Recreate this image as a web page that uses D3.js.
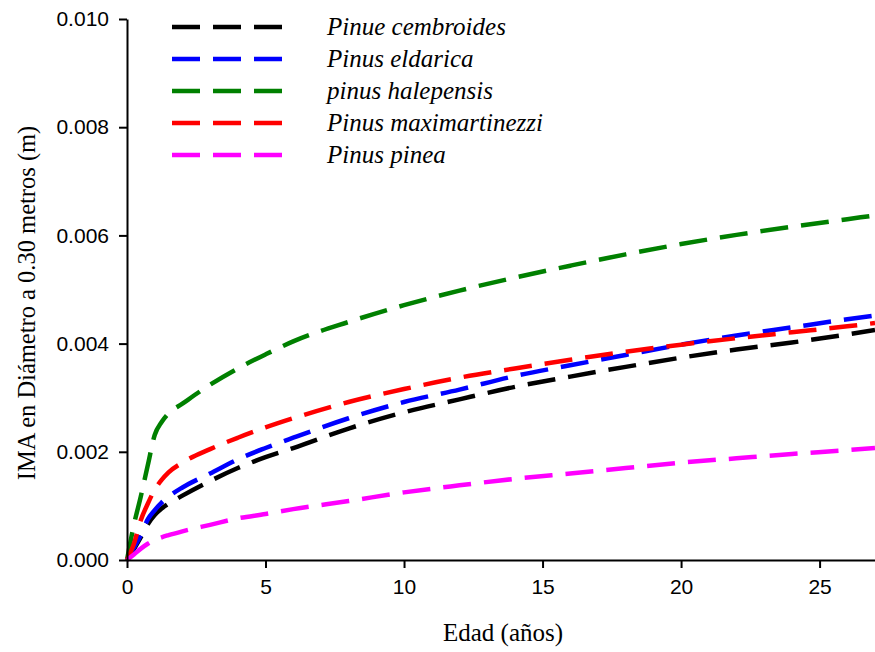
<!DOCTYPE html>
<html>
<head>
<meta charset="utf-8">
<script src="https://cdn.jsdelivr.net/npm/d3@7"></script>
<style>
  html, body { margin: 0; padding: 0; background: #fff; }
  svg { display: block; }
</style>
</head>
<body>
<div id="chart"></div>
<script>
// ---- Data ----
const ages = [0, 0.25, 0.5, 0.75, 1, 1.25, 1.5, 2, 3, 4, 5, 6, 8, 10, 12, 14, 16, 18, 20, 22, 24, 26, 27];

const pinueCembroides = [0, 0.0002, 0.00042, 0.00066, 0.00083, 0.00095, 0.00104, 0.00119, 0.00146, 0.0017, 0.0019, 0.00207, 0.00243, 0.00273, 0.00297, 0.0032, 0.00339, 0.00357, 0.00374, 0.00389, 0.00402, 0.00417, 0.00425];
const pinusEldarica = [0, 0.00023, 0.00046, 0.00075, 0.00092, 0.00106, 0.00117, 0.00134, 0.0016, 0.00186, 0.00207, 0.00226, 0.00262, 0.00292, 0.00315, 0.0034, 0.0036, 0.00379, 0.00398, 0.00415, 0.0043, 0.00445, 0.00452];
const pinusHalepensis = [0, 0.00065, 0.00118, 0.00175, 0.00231, 0.00255, 0.00271, 0.00289, 0.00324, 0.00354, 0.0038, 0.00404, 0.0044, 0.00471, 0.00498, 0.00522, 0.00544, 0.00565, 0.00584, 0.00601, 0.00616, 0.0063, 0.00637];
const pinusMaximartinezzi = [0, 0.0003, 0.00074, 0.00104, 0.0013, 0.00148, 0.00162, 0.0018, 0.00205, 0.00226, 0.00245, 0.00262, 0.00292, 0.00316, 0.00337, 0.00354, 0.0037, 0.00385, 0.00398, 0.0041, 0.00421, 0.00432, 0.00438];
const pinusPinea = [0, 0.0001, 0.00021, 0.0003, 0.00037, 0.00042, 0.00046, 0.00053, 0.00065, 0.00077, 0.00085, 0.00094, 0.00109, 0.00125, 0.00138, 0.0015, 0.0016, 0.0017, 0.0018, 0.00188, 0.00196, 0.00203, 0.00207];

const seriesNames = ["Pinue cembroides", "Pinus eldarica", "pinus halepensis", "Pinus maximartinezzi", "Pinus pinea"];
const seriesColors = ["#000000", "#0000ff", "#008000", "#ff0000", "#ff00ff"];
const seriesValues = [pinueCembroides, pinusEldarica, pinusHalepensis, pinusMaximartinezzi, pinusPinea];

const xTicks = [0, 5, 10, 15, 20, 25];
const yTicks = [0, 0.002, 0.004, 0.006, 0.008, 0.010];

const xTitle = "Edad (años)";
const yTitle = "IMA en Diámetro a 0.30 metros (m)";

// ---- Layout ----
const W = 875, H = 652;
const mLeft = 127, mTop = 19, mRight = 875, mBottom = 560;

const svg = d3.select("#chart").append("svg").attr("width", W).attr("height", H);

const x = d3.scaleLinear().domain([0, 27]).range([mLeft, mRight]);
const y = d3.scaleLinear().domain([0, 0.010]).range([mBottom, mTop]);

// Lines
const line = d3.line()
  .x(d => x(d[0]))
  .y(d => y(d[1]))
  .curve(d3.curveMonotoneX);

seriesValues.forEach((vals, i) => {
  const pts = ages.map((a, j) => [a, vals[j]]);
  svg.append("path")
    .datum(pts)
    .attr("fill", "none")
    .attr("stroke", seriesColors[i])
    .attr("stroke-width", 4.5)
    .attr("stroke-dasharray", "28,13")
    .attr("d", line);
});

// Axes
const xAxis = d3.axisBottom(x).tickValues(xTicks).tickSize(8).tickSizeOuter(0).tickPadding(11).tickFormat(d3.format("d"));
const yAxis = d3.axisLeft(y).tickValues(yTicks).tickSize(8).tickSizeOuter(0).tickPadding(10).tickFormat(d3.format(".3f"));

const gx = svg.append("g").attr("transform", `translate(0,${mBottom})`).call(xAxis);
const gy = svg.append("g").attr("transform", `translate(${mLeft},0)`).call(yAxis);

[gx, gy].forEach(g => {
  g.selectAll("path.domain").attr("stroke", "#000").attr("stroke-width", 2);
  g.selectAll(".tick line").attr("stroke", "#000").attr("stroke-width", 2);
  g.selectAll(".tick text")
    .attr("fill", "#000")
    .style("font-family", "'Liberation Sans', Arial, sans-serif")
    .style("font-size", "21px");
});

// Axis titles
svg.append("text")
  .attr("x", 503).attr("y", 641)
  .attr("text-anchor", "middle")
  .style("font-family", "'Liberation Serif', 'Times New Roman', serif")
  .style("font-size", "25px")
  .text(xTitle);

svg.append("text")
  .attr("transform", "translate(35,303) rotate(-90)")
  .attr("text-anchor", "middle")
  .style("font-family", "'Liberation Serif', 'Times New Roman', serif")
  .style("font-size", "24.5px")
  .text(yTitle);

// Legend
const legend = svg.append("g");
seriesNames.forEach((name, i) => {
  const ly = 27 + i * 32;
  legend.append("line")
    .attr("x1", 172).attr("x2", 284)
    .attr("y1", ly).attr("y2", ly)
    .attr("stroke", seriesColors[i])
    .attr("stroke-width", 4.5)
    .attr("stroke-dasharray", "28,13");
  legend.append("text")
    .attr("x", 327).attr("y", ly + 8)
    .style("font-family", "'Liberation Serif', 'Times New Roman', serif")
    .style("font-style", "italic")
    .style("font-size", "25px")
    .attr("fill", "#000")
    .text(name);
});
</script>
</body>
</html>
